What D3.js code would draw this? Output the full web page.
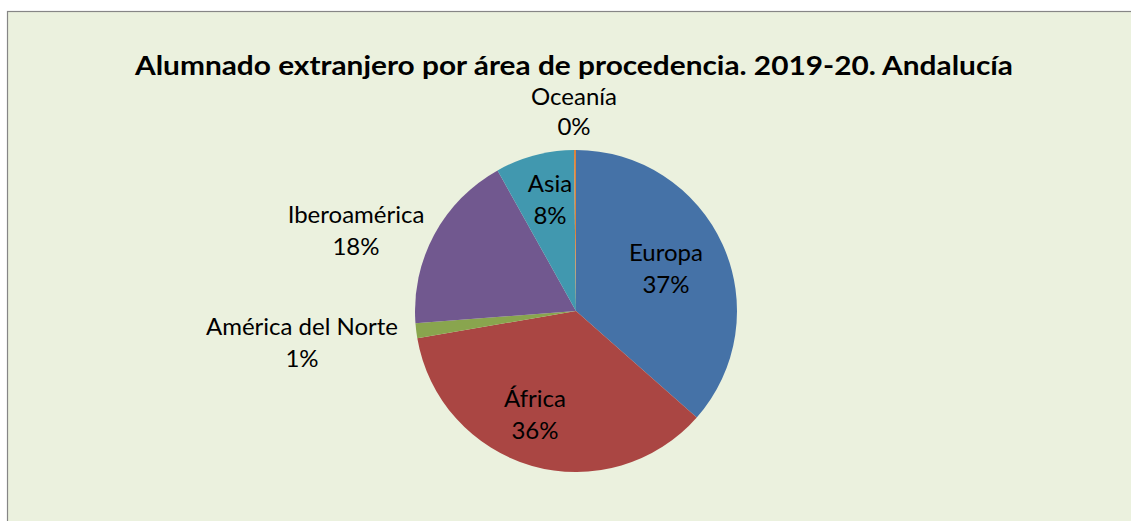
<!DOCTYPE html>
<html>
<head>
<meta charset="utf-8">
<script src="https://cdn.jsdelivr.net/npm/d3@7"></script>
<style>
  html, body { margin: 0; padding: 0; background: #ffffff; overflow: hidden; }
  svg { display: block; }
</style>
</head>
<body>
<svg id="chart" width="1131" height="521"></svg>
<script>
const title = "Alumnado extranjero por área de procedencia. 2019-20. Andalucía";
const categories = ["Europa", "África", "América del Norte", "Iberoamérica", "Asia", "Oceanía"];
const values = [36.5, 35.8, 1.5, 18.1, 7.9, 0.2];
const percentLabels = ["37%", "36%", "1%", "18%", "8%", "0%"];
const colors = ["#4572a7", "#aa4643", "#89a54e", "#71588f", "#4198af", "#db843d"];

const svg = d3.select("#chart");
const W = 1131, H = 521;

// chart area background and border (right/bottom edges fall outside the picture)
svg.append("rect")
  .attr("x", 7.5).attr("y", 11.5)
  .attr("width", W + 100).attr("height", H + 100)
  .attr("fill", "#ebf1de")
  .attr("stroke", "#868686").attr("stroke-width", 1.2);

// title
svg.append("text")
  .attr("x", 574).attr("y", 75)
  .attr("text-anchor", "middle")
  .attr("font-family", "Lato, 'Open Sans', sans-serif")
  .attr("font-weight", "bold")
  .attr("font-size", 26.5)
  .attr("fill", "#000")
  .attr("textLength", 878).attr("lengthAdjust", "spacingAndGlyphs")
  .text(title);

// pie
const cx = 576, cy = 311, R = 161;
const data = categories.map((c, i) => ({ name: c, value: values[i], pct: percentLabels[i], color: colors[i] }));
const pie = d3.pie().value(d => d.value).sort(null);
const arc = d3.arc().innerRadius(0).outerRadius(R);
const arcs = pie(data);

const g = svg.append("g").attr("transform", `translate(${cx},${cy})`);
g.selectAll("path.slice").data(arcs).enter().append("path")
  .attr("class", "slice")
  .attr("d", arc)
  .attr("fill", d => d.data.color);

// label anchor positions
const labelPos = {
  "Europa":            { x: 666, y1: 261, y2: 293 },
  "África":            { x: 535, y1: 407, y2: 439 },
  "América del Norte": { x: 302, y1: 335, y2: 367 },
  "Iberoamérica":      { x: 356, y1: 223, y2: 255 },
  "Asia":              { x: 550, y1: 192, y2: 224 },
  "Oceanía":           { x: 574, y1: 105, y2: 135 }
};
const labels = svg.append("g")
  .attr("font-family", "Lato, 'Open Sans', sans-serif")
  .attr("font-size", 24)
  .attr("fill", "#000")
  .attr("text-anchor", "middle");
arcs.forEach(a => {
  const p = labelPos[a.data.name];
  labels.append("text").attr("x", p.x).attr("y", p.y1).text(a.data.name);
  labels.append("text").attr("x", p.x).attr("y", p.y2).text(a.data.pct);
});
</script>
</body>
</html>
